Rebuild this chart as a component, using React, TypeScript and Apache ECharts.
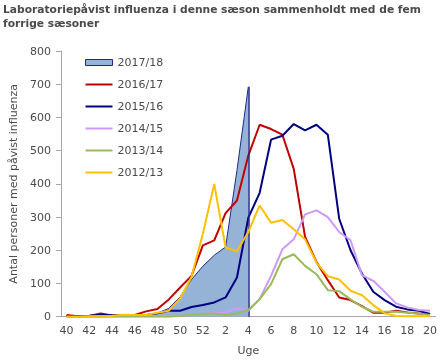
import React, { useEffect, useRef } from 'react';
import * as echarts from 'echarts';

const weeks = ['40','41','42','43','44','45','46','47','48','49','50','51','52','1','2','3','4','5','6','7','8','9','10','11','12','13','14','15','16','17','18','19','20'];

const seasonNames = ['2017/18', '2016/17', '2015/16', '2014/15', '2013/14', '2012/13'];

const s2017 = [3, 2, 2, 3, 3, 5, 4, 6, 11, 25, 60, 112, 152, 185, 210, 440, 692,
  null, null, null, null, null, null, null, null, null, null, null, null, null, null, null, null];
const s2016 = [5, 1, 2, 10, 4, 3, 5, 16, 23, 52, 88, 123, 215, 230, 312, 350, 485, 578, 565, 548, 445, 240, 165, 110, 58, 50, 32, 12, 12, 18, 13, 10, 8];
const s2015 = [2, 2, 3, 6, 4, 5, 4, 5, 10, 18, 18, 29, 35, 43, 58, 118, 298, 373, 533, 545, 580, 561, 578, 548, 295, 200, 130, 75, 50, 30, 22, 18, 8];
const s2014 = [0, 0, 0, 0, 1, 1, 2, 2, 2, 3, 3, 5, 8, 12, 13, 25, 18, 53, 123, 203, 233, 308, 320, 300, 255, 230, 125, 108, 75, 40, 28, 20, 18];
const s2013 = [0, 0, 0, 0, 0, 0, 0, 0, 0, 0, 2, 6, 8, 10, 5, 10, 20, 53, 98, 173, 188, 153, 128, 80, 77, 52, 30, 15, 15, 15, 12, 10, 5];
const s2012 = [0, 0, 1, 2, 3, 6, 5, 5, 12, 18, 55, 120, 250, 400, 208, 197, 255, 335, 283, 291, 263, 233, 163, 122, 112, 78, 65, 35, 10, 2, 1, 1, 1];

const seasonData = [s2017, s2016, s2015, s2014, s2013, s2012];
const lineColors = ['#1F2A8A', '#C00000', '#000080', '#CC99FF', '#9BBB59', '#FFC000'];

const titleText = 'Laboratoriepåvist influenza i denne sæson sammenholdt med de fem\nforrige sæsoner';
const yName = 'Antal personer med påvist influenza';
const xName = 'Uge';

const lineIcon = 'path://M0,0M27,6M0,2L27,2L27,4L0,4Z';

export default function App() {
  const ref = useRef<HTMLDivElement>(null);
  useEffect(() => {
    if (!ref.current) return;
    const chart = echarts.init(ref.current, null, { renderer: 'svg' });
    const font = 'DejaVu Sans';
    const txt = '#4A4A4A';
    let lastIdx = 0;
    s2017.forEach((v, i) => { if (v !== null) lastIdx = i; });

    const series: any[] = seasonNames.map((name, k) => {
      if (k === 0) {
        return {
          name,
          type: 'line',
          data: seasonData[k],
          symbol: 'none',
          z: 1,
          lineStyle: { color: lineColors[0], width: 1 },
          itemStyle: { color: '#95B3D7' },
          areaStyle: { color: '#95B3D7', opacity: 1 },
          markLine: {
            silent: true,
            symbol: 'none',
            label: { show: false },
            lineStyle: { color: lineColors[0], width: 1.5, type: 'solid' },
            data: [[{ coord: [weeks[lastIdx], 0] }, { coord: [weeks[lastIdx], s2017[lastIdx]] }]],
          },
        };
      }
      return {
        name,
        type: 'line',
        data: seasonData[k],
        symbol: 'none',
        z: 2 + k,
        lineStyle: { color: lineColors[k], width: 2 },
        itemStyle: { color: lineColors[k] },
      };
    });

    chart.setOption({
      animation: false,
      textStyle: { fontFamily: font },
      title: {
        text: titleText,
        left: 3,
        top: 2,
        padding: 0,
        textStyle: { fontFamily: font, fontSize: 10.7, fontWeight: 'bold', color: txt, lineHeight: 14 },
      },
      legend: {
        orient: 'vertical',
        left: 80,
        top: 52,
        itemWidth: 27,
        itemHeight: 6,
        itemGap: 11,
        textStyle: { fontFamily: font, fontSize: 11, color: txt },
        data: seasonNames.map((n, k) =>
          k === 0
            ? { name: n, icon: 'rect', itemStyle: { color: '#95B3D7', borderColor: lineColors[0], borderWidth: 1 } }
            : { name: n, icon: lineIcon, itemStyle: { color: lineColors[k], borderWidth: 0 }, lineStyle: { width: 0 } }
        ),
      },
      grid: { left: 59.3, right: 3.3, top: 51, bottom: 45.3 },
      xAxis: {
        type: 'category',
        data: weeks,
        boundaryGap: true,
        name: xName,
        nameLocation: 'middle',
        nameGap: 28,
        nameTextStyle: { fontFamily: font, fontSize: 11, color: txt },
        axisLine: { lineStyle: { color: '#A6A6A6' } },
        axisTick: { interval: 0, length: 5, lineStyle: { color: '#A6A6A6' } },
        axisLabel: { interval: 1, margin: 8, fontFamily: font, fontSize: 11, color: txt },
        splitLine: { show: false },
      },
      yAxis: {
        type: 'value',
        min: 0,
        max: 800,
        interval: 100,
        name: yName,
        nameLocation: 'middle',
        nameGap: 40,
        nameTextStyle: { fontFamily: font, fontSize: 11, color: txt },
        axisLine: { show: true, lineStyle: { color: '#A6A6A6' } },
        axisTick: { show: true, length: 5, lineStyle: { color: '#A6A6A6' } },
        axisLabel: { margin: 10, fontFamily: font, fontSize: 11, color: txt },
        splitLine: { show: false },
      },
      series,
    });
    return () => chart.dispose();
  }, []);
  return <div ref={ref} style={{ position: 'fixed', left: 0, top: 0, width: 440, height: 362 }} />;
}
